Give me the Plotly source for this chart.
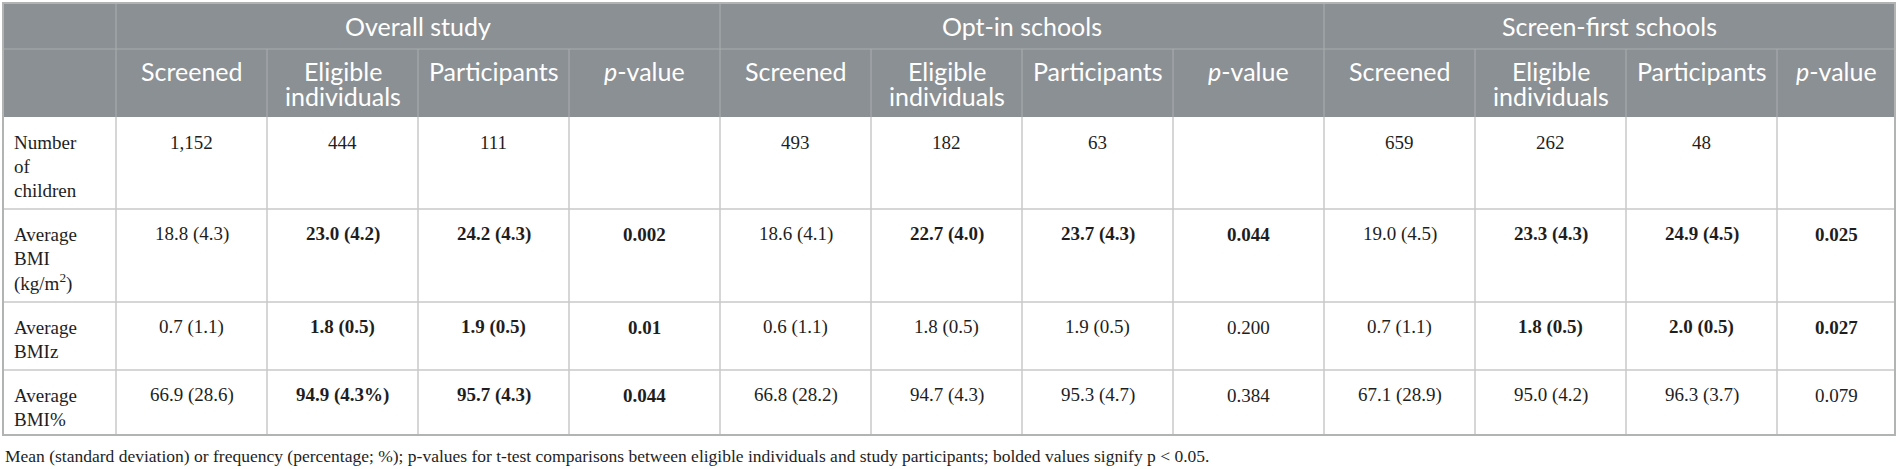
import plotly.graph_objects as go

# table content
groups = ["Overall study", "Opt-in schools", "Screen-first schools"]
sub_headers = ["Screened", "Eligible<br>individuals", "Participants", "<i>p</i>-value"]
row_labels = ["Number<br>of<br>children", "Average<br>BMI<br>(kg/m<sup>2</sup>)", "Average<br>BMIz", "Average<br>BMI%"]

overall_screened = ["1,152", "18.8 (4.3)", "0.7 (1.1)", "66.9 (28.6)"]
overall_eligible = ["444", "23.0 (4.2)", "1.8 (0.5)", "94.9 (4.3%)"]
overall_participants = ["111", "24.2 (4.3)", "1.9 (0.5)", "95.7 (4.3)"]
overall_p = ["", "0.002", "0.01", "0.044"]

optin_screened = ["493", "18.6 (4.1)", "0.6 (1.1)", "66.8 (28.2)"]
optin_eligible = ["182", "22.7 (4.0)", "1.8 (0.5)", "94.7 (4.3)"]
optin_participants = ["63", "23.7 (4.3)", "1.9 (0.5)", "95.3 (4.7)"]
optin_p = ["", "0.044", "0.200", "0.384"]

screen_screened = ["659", "19.0 (4.5)", "0.7 (1.1)", "67.1 (28.9)"]
screen_eligible = ["262", "23.3 (4.3)", "1.8 (0.5)", "95.0 (4.2)"]
screen_participants = ["48", "24.9 (4.5)", "2.0 (0.5)", "96.3 (3.7)"]
screen_p = ["", "0.025", "0.027", "0.079"]

footnote = ("Mean (standard deviation) or frequency (percentage; %); p-values for t-test comparisons "
            "between eligible individuals and study participants; bolded values signify p &lt; 0.05.")

# layout / style
W, H = 1897, 469
HEAD_FILL = "#8b9094"
HEAD_LINE = "#a7abae"
CELL_LINE = "#c8c8c8"
BORDER = "#b2b4b4"
TEXT = "#1e1e1e"
SANS = "Lato"
SERIF = "Liberation Serif"

col_widths = [113] + [151] * 11 + [118]
row_heights = [46, 68, 92, 93, 68, 65]   # group header, sub header, four body rows
x0, y0 = 3, 3
first_line = 25    # from top of a body row to centre of its first text line
line_gap = 24
head_first = 22
head_gap = 25
label_pad = 9

x_edges = [x0]
for w in col_widths:
    x_edges.append(x_edges[-1] + w)
y_edges = [y0]
for h in row_heights:
    y_edges.append(y_edges[-1] + h)


def is_sig(p):
    return p != "" and float(p) < 0.05


columns = []
for scr, eli, par, pv in [
    (overall_screened, overall_eligible, overall_participants, overall_p),
    (optin_screened, optin_eligible, optin_participants, optin_p),
    (screen_screened, screen_eligible, screen_participants, screen_p),
]:
    columns.append([(v, False) for v in scr])
    for col in (eli, par, pv):
        columns.append([(v, is_sig(p)) for v, p in zip(col, pv)])

fig = go.Figure()


def line(xa, ya, xb, yb, color, width):
    fig.add_shape(type="line", xref="x", yref="y", x0=xa, y0=ya, x1=xb, y1=yb,
                  line=dict(color=color, width=width))


def text(s, x, y, font, anchor="center"):
    fig.add_annotation(text=s, xref="x", yref="y", x=x, y=y, xanchor=anchor, yanchor="middle",
                       showarrow=False, font=font)


# header background
fig.add_shape(type="rect", xref="x", yref="y", x0=x_edges[0], x1=x_edges[-1],
              y0=y_edges[0], y1=y_edges[2], fillcolor=HEAD_FILL, line=dict(width=0), layer="below")

# header grid
line(x_edges[0], y_edges[1], x_edges[-1], y_edges[1], HEAD_LINE, 1.2)
for i in range(1, len(x_edges) - 1):
    top = y_edges[0] if (i - 1) % 4 == 0 else y_edges[1]
    line(x_edges[i], top, x_edges[i], y_edges[2], HEAD_LINE, 1.2)

# body grid
for j in range(3, len(y_edges) - 1):
    line(x_edges[0], y_edges[j], x_edges[-1], y_edges[j], CELL_LINE, 1.5)
for i in range(1, len(x_edges) - 1):
    line(x_edges[i], y_edges[2], x_edges[i], y_edges[-1], CELL_LINE, 1.5)

# outer border
fig.add_shape(type="rect", xref="x", yref="y", x0=x_edges[0], x1=x_edges[-1],
              y0=y_edges[0], y1=y_edges[-1], line=dict(color=BORDER, width=2))

head_font = dict(family=SANS, size=25, color="white")
body_font = dict(family=SERIF, size=19, color=TEXT)

# group titles
for g, name in enumerate(groups):
    a, b = x_edges[1 + 4 * g], x_edges[5 + 4 * g]
    text(name, (a + b) / 2, y_edges[0] + 23, head_font)

# sub headers
for c in range(12):
    cx = (x_edges[c + 1] + x_edges[c + 2]) / 2
    for k, part in enumerate(sub_headers[c % 4].split("<br>")):
        text(part, cx, y_edges[1] + head_first + k * head_gap, head_font)

# row labels
for r, lab in enumerate(row_labels):
    for k, part in enumerate(lab.split("<br>")):
        text(part, x_edges[0] + label_pad, y_edges[2 + r] + first_line + k * line_gap, body_font, "left")

# values
for c, col in enumerate(columns):
    cx = (x_edges[c + 1] + x_edges[c + 2]) / 2
    for r, (v, bold) in enumerate(col):
        if v:
            text("<b>" + v + "</b>" if bold else v, cx, y_edges[2 + r] + first_line, body_font)

fig.add_annotation(
    text=footnote, xref="x", yref="y", x=x0, y=456, xanchor="left", yanchor="middle",
    showarrow=False, font=dict(family=SERIF, size=17.5, color=TEXT),
)

fig.update_layout(
    width=W, height=H,
    margin=dict(l=0, r=0, t=0, b=0),
    paper_bgcolor="white", plot_bgcolor="white",
    xaxis=dict(range=[0, W], visible=False, fixedrange=True),
    yaxis=dict(range=[H, 0], visible=False, fixedrange=True),
    showlegend=False,
)

# page has a default 8px body margin, drop it so the figure fills the window
fig.write_html("out.html", config={"displayModeBar": False},
               post_script="document.body.style.margin='0';")
